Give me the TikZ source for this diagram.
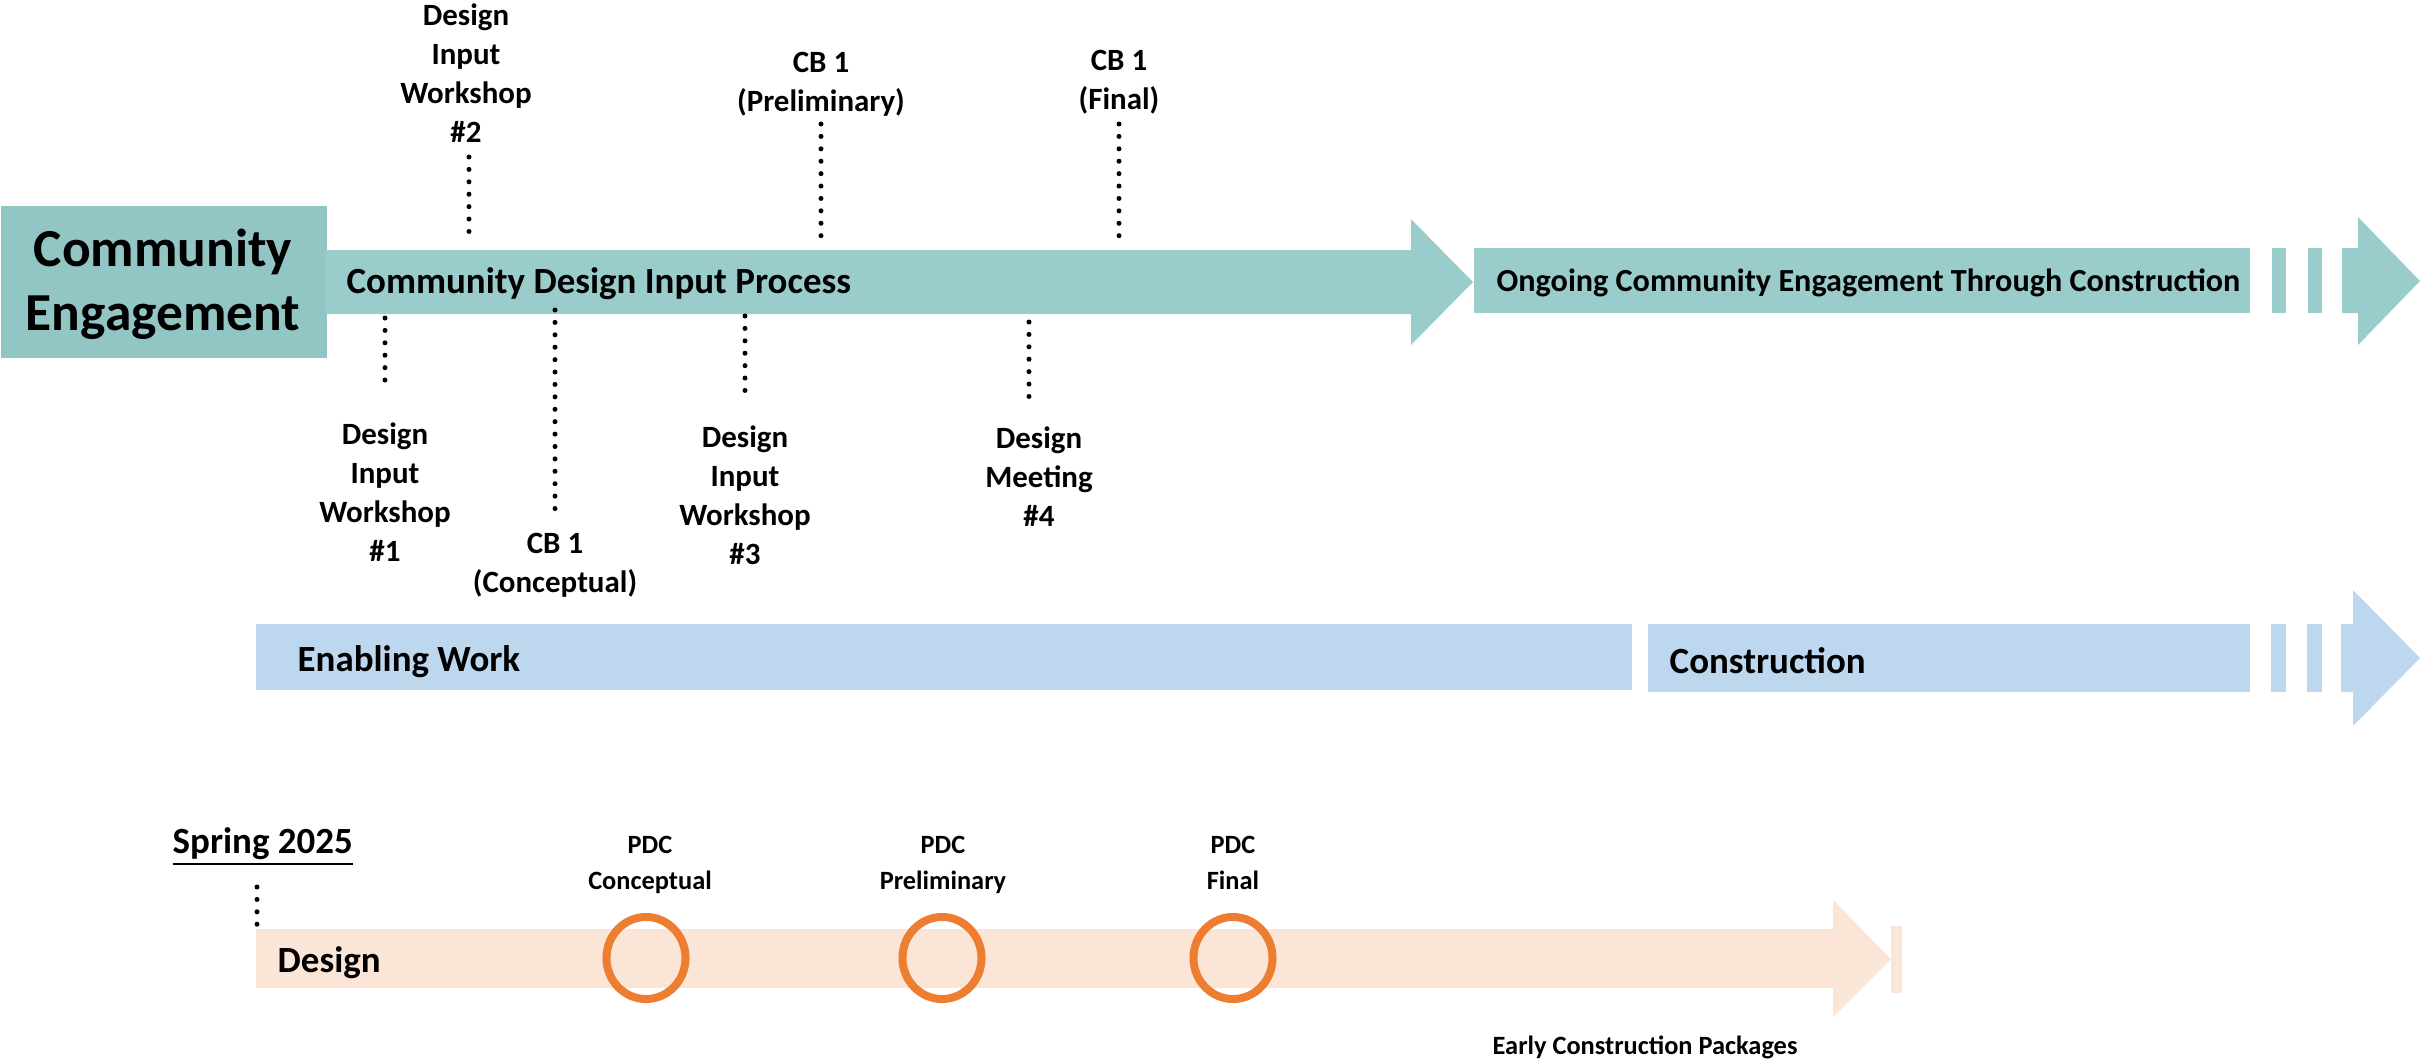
\documentclass[tikz,border=0pt]{standalone}
\usepackage{fontspec}
\usetikzlibrary{shapes.geometric}
\setmainfont{Carlito}
\definecolor{ceteal}{HTML}{92C6C5}
\definecolor{barteal}{HTML}{9ACCCC}
\definecolor{lblue}{HTML}{BDD7EE}
\definecolor{peach}{HTML}{FAE5D7}
\definecolor{pdcorange}{HTML}{ED7D31}
\begin{document}
\begin{tikzpicture}[x=0.01cm,y=-0.01cm,
  dotline/.style={line width=0.05cm, dash pattern=on 0pt off 0.124cm, line cap=round},
  lbl/.style={align=center, inner sep=0pt, font=\fontsize{8.8pt}{11.1pt}\selectfont\bfseries},
  smalllbl/.style={align=center, inner sep=0pt, font=\fontsize{7.5pt}{10pt}\selectfont\bfseries},
  bartext/.style={inner sep=0pt, anchor=base west, font=\fontsize{10.5pt}{12.6pt}\selectfont\bfseries},
  pdc/.style={draw=pdcorange, line width=0.08cm, ellipse, minimum width=0.79cm, minimum height=0.82cm, inner sep=0pt}]
\useasboundingbox (0,0) rectangle (2420,1063);

% ---------- Community engagement row ----------
\node (ce) [fill=ceteal, anchor=north west, minimum width=3.26cm, minimum height=1.52cm, inner sep=0pt] at (0,205) {};
\node (ceText) [align=center, inner sep=0pt, anchor=base, font=\fontsize{15.2pt}{18pt}\selectfont\bfseries] at (163,330) {Community\\Engagement};

\fill[barteal] (326,250) -- (1411,250) -- (1411,219) -- (1473,282) -- (1411,345) -- (1411,314) -- (326,314) -- cycle;
\node (cdip) [bartext] at (346,293) {Community Design Input Process};

\fill[barteal] (1474,248) rectangle (2250,313);
\fill[barteal] (2272,248) rectangle (2286,313);
\fill[barteal] (2308,248) rectangle (2322,313);
\fill[barteal] (2342,248) -- (2358,248) -- (2358,217) -- (2420,281) -- (2358,345) -- (2358,313) -- (2342,313) -- cycle;
\node (ongoing) [bartext, font=\fontsize{9.15pt}{11pt}\selectfont\bfseries] at (1496,291) {Ongoing Community Engagement Through Construction};

% milestones above
\node (w2) [lbl] at (466,73) {Design\\Input\\Workshop\\\#2};
\coordinate (w2a) at (469,157); \coordinate (w2b) at (469,234);
\draw[dotline] (w2a) -- (w2b);

\node (cbp) [lbl] at (821,84) {CB 1\\(Preliminary)};
\coordinate (cbpa) at (821,124); \coordinate (cbpb) at (821,248);
\draw[dotline] (cbpa) -- (cbpb);

\node (cbf) [lbl] at (1119,82) {CB 1\\(Final)};
\coordinate (cbfa) at (1119,124); \coordinate (cbfb) at (1119,248);
\draw[dotline] (cbfa) -- (cbfb);

% milestones below
\node (w1) [lbl] at (385,492) {Design\\Input\\Workshop\\\#1};
\coordinate (w1a) at (385,318); \coordinate (w1b) at (385,392);
\draw[dotline] (w1a) -- (w1b);

\node (cbc) [lbl] at (555,565) {CB 1\\(Conceptual)};
\coordinate (cbca) at (555,310); \coordinate (cbcb) at (555,509);
\draw[dotline] (cbca) -- (cbcb);

\node (w3) [lbl] at (745,495) {Design\\Input\\Workshop\\\#3};
\coordinate (w3a) at (745,316); \coordinate (w3b) at (745,392);
\draw[dotline] (w3a) -- (w3b);

\node (m4) [lbl] at (1039,477) {Design\\Meeting\\\#4};
\coordinate (m4a) at (1029,322); \coordinate (m4b) at (1029,397);
\draw[dotline] (m4a) -- (m4b);

% ---------- Enabling work / construction ----------
\fill[lblue] (256,624) rectangle (1632,690);
\node (enab) [bartext] at (297,671) {Enabling Work};
\fill[lblue] (1648,624) rectangle (2250,692);
\fill[lblue] (2271,624) rectangle (2286,692);
\fill[lblue] (2307,624) rectangle (2322,692);
\fill[lblue] (2341,624) -- (2353,624) -- (2353,590) -- (2420,658) -- (2353,726) -- (2353,692) -- (2341,692) -- cycle;
\node (constr) [bartext] at (1669,673) {Construction};

% ---------- Design ----------
\node (spring) [bartext] at (172,853) {\underline{Spring 2025}};
\coordinate (spa) at (257,887); \coordinate (spb) at (257,936);
\draw[dotline] (spa) -- (spb);

\fill[peach] (256,929) -- (1833,929) -- (1833,900) -- (1891,959) -- (1833,1017) -- (1833,988) -- (256,988) -- cycle;
\fill[peach] (1891,926) rectangle (1902,993);
\node (design) [bartext] at (277,972) {Design};

\node (c1) [pdc] at (646,958) {};
\node (c2) [pdc] at (942,958) {};
\node (c3) [pdc] at (1233,958) {};
\node (l1) [smalllbl, anchor=base] at (650,889) {PDC\\Conceptual};
\node (l2) [smalllbl, anchor=base] at (943,889) {PDC\\Preliminary};
\node (l3) [smalllbl, anchor=base] at (1233,889) {PDC\\Final};

\node (ecp) [inner sep=0pt, anchor=base west, font=\fontsize{7.5pt}{10pt}\selectfont\bfseries] at (1492,1054) {Early Construction Packages};
\end{tikzpicture}
\end{document}
